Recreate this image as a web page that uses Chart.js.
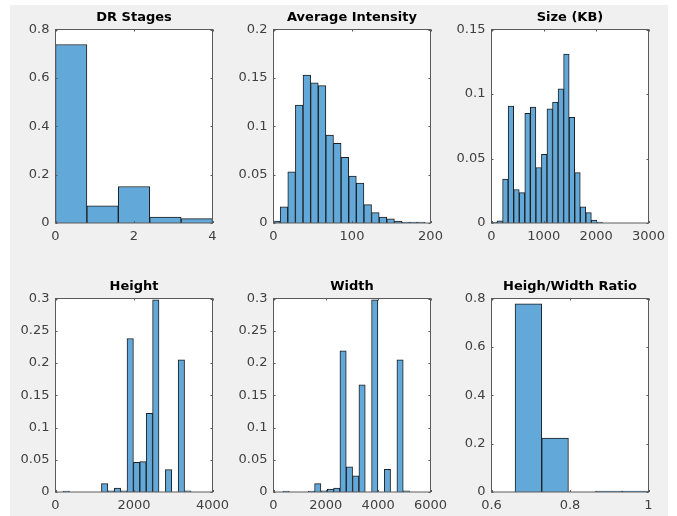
<!DOCTYPE html>
<html><head><meta charset="utf-8">
<script src="https://cdn.jsdelivr.net/npm/chart.js@4.4.0/dist/chart.umd.min.js"></script>
<style>
html,body{margin:0;padding:0;background:#ffffff;}
#page{position:relative;width:677px;height:516px;overflow:hidden;background:#ffffff;}
#fig{position:absolute;left:10px;top:5px;width:658px;height:511px;background:#f0f0f0;}
canvas{position:absolute;left:0;top:0;}
</style></head><body><div id="page"><div id="fig"></div></div>
<script>
// ---------- DATA ----------
const titles = ['DR Stages', 'Average Intensity', 'Size (KB)', 'Height', 'Width', 'Heigh/Width Ratio'];

// bin centres (categories) and normalized counts (series values)
const drBins = [0.4, 1.2, 2.0, 2.8, 3.6];
const drValues = [0.738, 0.071, 0.151, 0.024, 0.018];

const intensityBins = [3.65, 13.35, 23.05, 32.75, 42.45, 52.15, 61.85, 71.55, 81.25, 90.95,
                       100.65, 110.35, 120.05, 129.75, 139.45, 149.15, 158.85, 168.55, 178.25, 187.95];
const intensityValues = [0.002, 0.0166, 0.053, 0.1218, 0.153, 0.145, 0.142, 0.091, 0.0824, 0.0678,
                         0.0484, 0.0412, 0.019, 0.0107, 0.0062, 0.0042, 0.002, 0.001, 0.001, 0.001];

const sizeBins = [53, 159, 265, 371, 477, 583, 689, 795, 901, 1007,
                  1113, 1219, 1325, 1431, 1537, 1643, 1749, 1855, 1961, 2067];
const sizeValues = [0.0008, 0.0016, 0.034, 0.0906, 0.026, 0.0236, 0.085, 0.0898, 0.043, 0.0532,
                    0.0885, 0.0937, 0.104, 0.131, 0.082, 0.039, 0.0125, 0.008, 0.0023, 0.0008];

const heightBins = [274.5, 437.4, 600.3, 763.2, 926.1, 1089, 1251.9, 1414.8, 1577.7, 1740.6,
                    1903.5, 2066.4, 2229.3, 2392.2, 2555.1, 2718, 2880.9, 3043.8, 3206.7, 3369.6];
const heightValues = [0.0015, 0, 0, 0, 0, 0, 0.013, 0.002, 0.006, 0.002,
                      0.238, 0.046, 0.047, 0.122, 0.298, 0, 0.0347, 0, 0.205, 0.002];

const widthBins = [481, 723, 965, 1207, 1449, 1691, 1933, 2175, 2417, 2659,
                   2901, 3143, 3385, 3627, 3869, 4111, 4353, 4595, 4837, 5079];
const widthValues = [0.0015, 0, 0, 0, 0.0015, 0.013, 0.002, 0.0047, 0.006, 0.219,
                     0.039, 0.025, 0.166, 0, 0.298, 0, 0.035, 0, 0.205, 0.002];

const ratioBins = [0.694, 0.762, 0.831, 0.899, 0.967];
const ratioValues = [0.778, 0.223, 0, 0.003, 0.003];

// tick labels
const drXTicks = [0, 2, 4];            const drYTicks = [0, 0.2, 0.4, 0.6, 0.8];
const intensityXTicks = [0, 100, 200]; const intensityYTicks = [0, 0.05, 0.1, 0.15, 0.2];
const sizeXTicks = [0, 1000, 2000, 3000]; const sizeYTicks = [0, 0.05, 0.1, 0.15];
const heightXTicks = [0, 2000, 4000];  const heightYTicks = [0, 0.05, 0.1, 0.15, 0.2, 0.25, 0.3];
const widthXTicks = [0, 2000, 4000, 6000]; const widthYTicks = [0, 0.05, 0.1, 0.15, 0.2, 0.25, 0.3];
const ratioXTicks = [0.6, 0.8, 1];     const ratioYTicks = [0, 0.2, 0.4, 0.6, 0.8];

// ---------- LAYOUT (not data) ----------
const FW = 677, FH = 516;
const colLeft = [55.5, 273.5, 491.5], colW = 157;
const rowTop = [29.5, 298.5], rowH = 193.5;
const YW = 50, XH = 24;
const FONT = '"DejaVu Sans", "Liberation Sans", sans-serif';

const panels = [
  {bins: drBins, values: drValues, xT: drXTicks, yT: drYTicks},
  {bins: intensityBins, values: intensityValues, xT: intensityXTicks, yT: intensityYTicks},
  {bins: sizeBins, values: sizeValues, xT: sizeXTicks, yT: sizeYTicks},
  {bins: heightBins, values: heightValues, xT: heightXTicks, yT: heightYTicks},
  {bins: widthBins, values: widthValues, xT: widthXTicks, yT: widthYTicks},
  {bins: ratioBins, values: ratioValues, xT: ratioXTicks, yT: ratioYTicks}
];

const framePlugin = {
  id: 'matlabFrame',
  beforeDraw(chart) {
    const {ctx, chartArea: a} = chart;
    ctx.save();
    ctx.fillStyle = '#ffffff';
    ctx.fillRect(a.left, a.top, a.right - a.left, a.bottom - a.top);
    ctx.restore();
  },
  afterDatasetsDraw(chart) {
    const {ctx, chartArea: a, scales: {x, y}} = chart;
    ctx.save();
    ctx.strokeStyle = '#5a5a5a';
    ctx.lineWidth = 1;
    const tl = 2;
    ctx.beginPath();
    y.ticks.forEach(t => {
      const py = Math.round(y.getPixelForValue(t.value)) + 0.5;
      ctx.moveTo(a.left, py); ctx.lineTo(a.left + tl, py);
      ctx.moveTo(a.right, py); ctx.lineTo(a.right - tl, py);
    });
    x.ticks.forEach(t => {
      const px = Math.round(x.getPixelForValue(t.value)) + 0.5;
      ctx.moveTo(px, a.bottom); ctx.lineTo(px, a.bottom - tl);
      ctx.moveTo(px, a.top); ctx.lineTo(px, a.top + tl);
    });
    ctx.stroke();
    ctx.strokeRect(a.left, a.top, a.right - a.left, a.bottom - a.top);
    ctx.restore();
  }
};

const fig = document.getElementById('page');
panels.forEach((p, i) => {
  const col = i % 3, row = Math.floor(i / 3);
  const left = colLeft[col], top = rowTop[row];
  const right = left + colW, bottom = top + rowH;
  const cv = document.createElement('canvas');
  cv.width = FW; cv.height = FH;
  cv.style.width = FW + 'px'; cv.style.height = FH + 'px';
  fig.appendChild(cv);
  const titleLH = 13 * 1.2, titlePadB = 4.2;
  const xMin = p.xT[0], xMax = p.xT[p.xT.length - 1];
  const yMax = p.yT[p.yT.length - 1];
  new Chart(cv, {
    type: 'bar',
    data: {
      datasets: [{
        data: p.bins.map((c, k) => ({x: c, y: p.values[k] > 0 ? p.values[k] : null})),
        backgroundColor: '#62a8d8',
        borderColor: '#1e1e1e',
        borderWidth: 1,
        borderSkipped: 'start',
        barPercentage: 1,
        categoryPercentage: 1,
        minBarLength: 1,
        grouped: false,
        clip: 0
      }]
    },
    options: {
      responsive: false,
      animation: false,
      devicePixelRatio: 1,
      events: [],
      layout: {padding: {left: left - YW, right: FW - right, top: top - titleLH - titlePadB, bottom: FH - bottom - XH}},
      plugins: {
        legend: {display: false},
        tooltip: {enabled: false},
        title: {display: true, fullSize: false, text: titles[i], color: '#000000',
                font: {family: FONT, size: 13, weight: 'bold'}, padding: {top: 0, bottom: titlePadB}}
      },
      scales: {
        x: {
          type: 'linear', min: xMin, max: xMax, offset: false,
          grid: {display: false, drawTicks: false, offset: false}, border: {display: false},
          ticks: {font: {family: FONT, size: 13}, color: '#404040', padding: 6, maxRotation: 0, autoSkip: false,
                  callback: v => String(v)},
          afterBuildTicks: s => { s.ticks = p.xT.map(v => ({value: v})); },
          afterFit: s => { s.height = XH; }
        },
        y: {
          type: 'linear', min: 0, max: yMax,
          grid: {display: false, drawTicks: false}, border: {display: false},
          ticks: {font: {family: FONT, size: 13}, color: '#404040', padding: 6,
                  callback: v => String(v)},
          afterBuildTicks: s => { s.ticks = p.yT.map(v => ({value: v})); },
          afterFit: s => { s.width = YW; }
        }
      }
    },
    plugins: [framePlugin]
  });
});
</script>
</body></html>
